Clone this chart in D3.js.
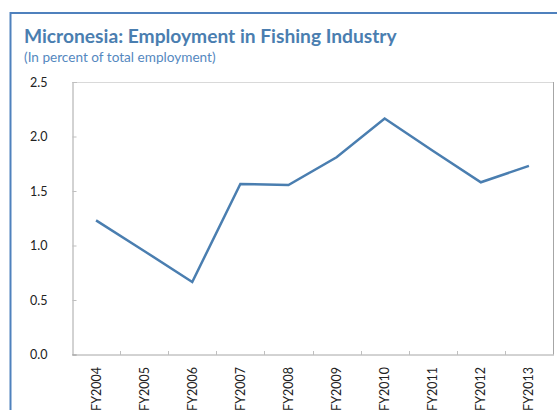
<!DOCTYPE html>
<html>
<head>
<meta charset="utf-8">
<script src="https://cdn.jsdelivr.net/npm/d3@7"></script>
<style>
  html, body { margin: 0; padding: 0; background: #fff; }
  svg { display: block; }
</style>
</head>
<body>
<svg id="chart" width="557" height="410"></svg>
<script>
// Fiscal years and fishing employment share (percent of total employment)
const years = ["FY2004", "FY2005", "FY2006", "FY2007", "FY2008", "FY2009", "FY2010", "FY2011", "FY2012", "FY2013"];
const share = [1.23, 0.95, 0.665, 1.565, 1.555, 1.81, 2.165, 1.87, 1.58, 1.73];
const yTicks = [0, 0.5, 1.0, 1.5, 2.0, 2.5];

const svg = d3.select("#chart");
const font = "Lato, 'Open Sans', 'DejaVu Sans', sans-serif";
const blue = "#4a7eb0";

// Outer frame (top and left edges visible)
svg.append("line").attr("x1", 10.5).attr("x2", 557).attr("y1", 13).attr("y2", 13)
  .attr("stroke", "#4f81bd").attr("stroke-width", 2);
svg.append("line").attr("x1", 10.5).attr("x2", 10.5).attr("y1", 12).attr("y2", 410)
  .attr("stroke", "#4f81bd").attr("stroke-width", 2);

// Titles
svg.append("text").attr("x", 24).attr("y", 43)
  .attr("font-family", font).attr("font-weight", "bold").attr("font-size", 19.2)
  .attr("fill", blue).text("Micronesia: Employment in Fishing Industry");
svg.append("text").attr("x", 24).attr("y", 62)
  .attr("font-family", font).attr("font-size", 13.6)
  .attr("fill", "#5588c0").text("(In percent of total employment)");

const plotL = 72, plotR = 553, plotT = 82, plotB = 354.5;

const x = d3.scaleBand().domain(years).range([plotL, plotR]).padding(0);
const y = d3.scaleLinear().domain([0, 2.5]).range([plotB, plotT]);

// Plot area border
svg.append("line").attr("x1", plotL).attr("x2", plotR).attr("y1", plotT + 0.5).attr("y2", plotT + 0.5)
  .attr("stroke", "#d9d9d9");
svg.append("line").attr("x1", plotR + 0.5).attr("x2", plotR + 0.5).attr("y1", plotT).attr("y2", plotB)
  .attr("stroke", "#a6a6a6");

// Y axis with inward ticks
const yAxis = svg.append("g").attr("transform", `translate(${plotL + 0.5},0)`)
  .call(d3.axisLeft(y).tickValues(yTicks).tickFormat(d3.format(".1f")).tickSize(-4).tickPadding(25));
yAxis.select(".domain").attr("stroke", "#a6a6a6");
yAxis.selectAll(".tick line").attr("stroke", "#bfbfbf");
yAxis.selectAll(".tick text").attr("font-family", font).attr("font-size", 12.5).attr("fill", "#222");

// X axis: ticks on category boundaries, rotated labels
const xAxisG = svg.append("g").attr("transform", `translate(0,${plotB + 0.5})`);
xAxisG.append("line").attr("x1", plotL).attr("x2", plotR + 1).attr("y1", 0).attr("y2", 0)
  .attr("stroke", "#a6a6a6");
xAxisG.selectAll("line.tk").data(years.slice(1)).enter().append("line")
  .attr("class", "tk")
  .attr("x1", d => Math.round(x(d)) + 0.5).attr("x2", d => Math.round(x(d)) + 0.5)
  .attr("y1", 0).attr("y2", -4).attr("stroke", "#bfbfbf");
xAxisG.selectAll("text").data(years).enter().append("text")
  .attr("transform", d => `translate(${x(d) + x.bandwidth() / 2 + 4.5},${12}) rotate(-90)`)
  .attr("text-anchor", "end")
  .attr("font-family", font).attr("font-size", 12.5).attr("fill", "#222")
  .text(d => d);

// Data line
const line = d3.line()
  .x((d, i) => x(years[i]) + x.bandwidth() / 2)
  .y(d => y(d));
svg.append("path").datum(share)
  .attr("d", line)
  .attr("fill", "none")
  .attr("stroke", blue)
  .attr("stroke-width", 2.5)
  .attr("stroke-linejoin", "miter");
</script>
</body>
</html>
